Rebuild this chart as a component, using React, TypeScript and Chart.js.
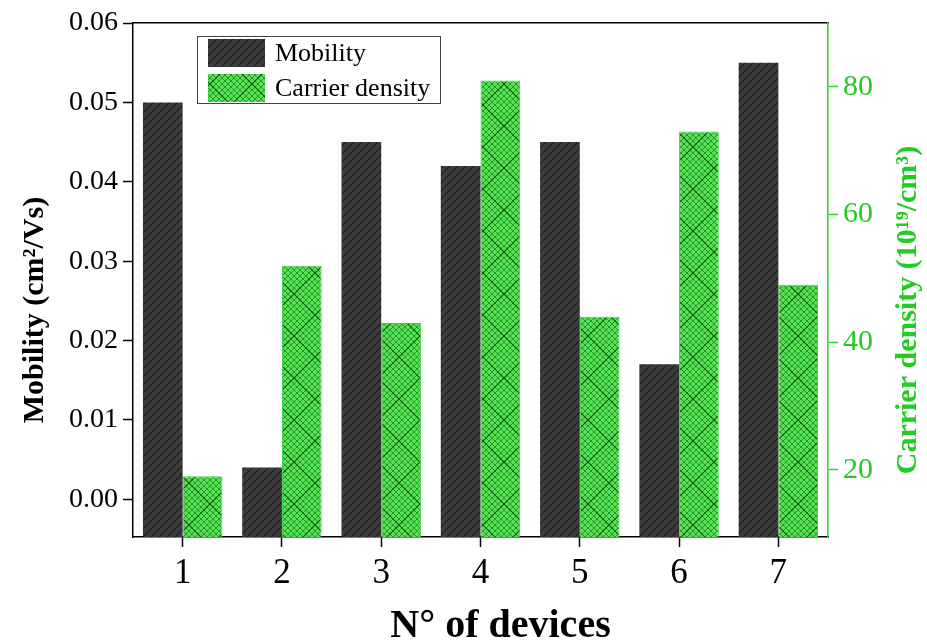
import React, { useEffect, useRef } from "react";
import { Chart, registerables } from "chart.js";

Chart.register(...registerables);

// ---- data ----
const devices = ["1", "2", "3", "4", "5", "6", "7"];
const mobility = [0.05, 0.004, 0.045, 0.042, 0.045, 0.017, 0.055];
const carrierDensity = [19, 52, 43, 81, 44, 73, 49];
const mobilityTicks = [0, 0.01, 0.02, 0.03, 0.04, 0.05, 0.06];
const densityTicks = [20, 40, 60, 80];
const seriesLabels = ["Mobility", "Carrier density"];
const mobilityTitle = "Mobility (cm\u00B2/Vs)";
const densityTitle = "Carrier density (10\u00B9\u2079/cm\u00B3)";
const xTitle = "N\u00B0 of devices";

const MOB_MIN = -0.00475;
const MOB_MAX = 0.06;
const DEN_MIN = 9.5;
const DEN_MAX = 90;

const SERIF = '"Liberation Serif", "Times New Roman", serif';
const GREEN = "#1ed81e";
const GREEN_TEXT = "#22cc22";

function darkPattern(): CanvasPattern | string {
  const s = 8;
  const c = document.createElement("canvas");
  c.width = s;
  c.height = s;
  const x = c.getContext("2d");
  if (!x) return "#333";
  x.fillStyle = "#3b3b3b";
  x.fillRect(0, 0, s, s);
  x.strokeStyle = "#1c1c1c";
  x.lineWidth = 1.2;
  x.beginPath();
  for (let k = -1; k <= 1; k++) {
    x.moveTo(k * s, s);
    x.lineTo(k * s + s, 0);
  }
  x.stroke();
  return x.createPattern(c, "repeat") || "#333";
}

function greenPattern(): CanvasPattern | string {
  const T = 42;
  const p = 6;
  const c = document.createElement("canvas");
  c.width = T;
  c.height = T;
  const x = c.getContext("2d");
  if (!x) return "#4e4";
  x.fillStyle = "#55e255";
  x.fillRect(0, 0, T, T);
  const drawLines = (step: number) => {
    x.beginPath();
    for (let k = 0; k <= 2 * T; k += step) {
      x.moveTo(k, 0);
      x.lineTo(k - T, T);
    }
    for (let d = -T; d <= T; d += step) {
      x.moveTo(0, d);
      x.lineTo(T, d + T);
    }
    x.stroke();
  };
  x.strokeStyle = "rgba(20,120,20,0.7)";
  x.lineWidth = 1;
  drawLines(p);
  x.strokeStyle = "#115511";
  x.lineWidth = 1.2;
  drawLines(T);
  return x.createPattern(c, "repeat") || "#4e4";
}

const overlayPlugin = {
  id: "overlay",
  afterDraw(chart: any) {
    const ctx: CanvasRenderingContext2D = chart.ctx;
    const area = chart.chartArea;
    const midY = (area.top + area.bottom) / 2 + 30;

    // left title
    ctx.save();
    ctx.fillStyle = "#000";
    ctx.font = `bold 30px ${SERIF}`;
    ctx.textAlign = "center";
    ctx.textBaseline = "middle";
    ctx.translate(area.left - 98, midY);
    ctx.rotate(-Math.PI / 2);
    ctx.fillText(mobilityTitle, 0, 0);
    ctx.restore();

    // right title (reads bottom to top)
    ctx.save();
    ctx.fillStyle = GREEN_TEXT;
    ctx.font = `bold 30px ${SERIF}`;
    ctx.textAlign = "center";
    ctx.textBaseline = "middle";
    ctx.translate(area.right + 80, midY);
    ctx.rotate(-Math.PI / 2);
    ctx.fillText(densityTitle, 0, 0);
    ctx.restore();

    // x title
    ctx.save();
    ctx.fillStyle = "#000";
    ctx.font = `bold 40px ${SERIF}`;
    ctx.textAlign = "center";
    ctx.textBaseline = "alphabetic";
    ctx.fillText(xTitle, (area.left + area.right) / 2 + 20, area.bottom + 100);
    ctx.restore();

    // legend
    const lx = area.left + 64;
    const ly = area.top + 13;
    const lw = 243;
    const lh = 67;
    ctx.save();
    ctx.fillStyle = "#fff";
    ctx.fillRect(lx, ly, lw, lh);
    ctx.strokeStyle = "#444";
    ctx.lineWidth = 1;
    ctx.strokeRect(lx + 0.5, ly + 0.5, lw, lh);
    chart.data.datasets.forEach((ds: any, i: number) => {
      const sy = ly + 3 + i * 35;
      ctx.fillStyle = ds.backgroundColor;
      ctx.fillRect(lx + 11, sy, 57, 28);
      ctx.fillStyle = "#000";
      ctx.font = `26px ${SERIF}`;
      ctx.textAlign = "left";
      ctx.textBaseline = "middle";
      ctx.fillText(ds.label, lx + 78, sy + 15);
    });
    ctx.restore();
  },
};

export default function App() {
  const ref = useRef<HTMLCanvasElement | null>(null);

  useEffect(() => {
    if (!ref.current) return;
    const chart = new Chart(ref.current, {
      type: "bar",
      data: {
        labels: devices,
        datasets: [
          {
            label: seriesLabels[0],
            data: mobility,
            yAxisID: "y",
            backgroundColor: darkPattern() as any,
            borderWidth: 0,
            base: MOB_MIN,
            barPercentage: 1,
            categoryPercentage: 0.8,
          },
          {
            label: seriesLabels[1],
            data: carrierDensity,
            yAxisID: "y1",
            backgroundColor: greenPattern() as any,
            borderColor: "#3fcf3f",
            borderWidth: 1,
            base: DEN_MIN,
            barPercentage: 1,
            categoryPercentage: 0.8,
          },
        ],
      },
      options: {
        responsive: false,
        animation: false,
        devicePixelRatio: 1,
        layout: { padding: 0 },
        plugins: {
          legend: { display: false },
          tooltip: { enabled: false },
        },
        scales: {
          x: {
            type: "category",
            position: "bottom",
            offset: true,
            grid: {
              display: true,
              drawOnChartArea: false,
              drawTicks: true,
              tickLength: 10,
              tickWidth: 1.5,
              tickColor: "#000",
              offset: false,
            },
            border: { display: true, color: "#000", width: 1.5 },
            ticks: {
              color: "#000",
              font: { family: SERIF, size: 35 },
              padding: 6,
              maxRotation: 0,
              autoSkip: false,
            },
            afterFit: (s: any) => {
              s.height = 105;
            },
          },
          xTop: {
            type: "category",
            position: "top",
            offset: true,
            grid: { display: false },
            ticks: { display: false },
            border: { display: true, color: "#000", width: 1.5 },
            afterFit: (s: any) => {
              s.height = 19;
            },
          },
          y: {
            type: "linear",
            position: "left",
            min: MOB_MIN,
            max: MOB_MAX,
            grid: {
              display: true,
              drawOnChartArea: false,
              tickLength: 10,
              tickWidth: 1.5,
              tickColor: "#000",
            },
            border: { display: true, color: "#000", width: 1.5 },
            ticks: {
              color: "#000",
              font: { family: SERIF, size: 28 },
              padding: 5,
              callback: (v: any) => Number(v).toFixed(2),
            },
            afterBuildTicks: (s: any) => {
              s.ticks = mobilityTicks.map((value) => ({ value }));
            },
            afterFit: (s: any) => {
              s.width = 133;
            },
          },
          y1: {
            type: "linear",
            position: "right",
            min: DEN_MIN,
            max: DEN_MAX,
            grid: {
              display: true,
              drawOnChartArea: false,
              tickLength: 10,
              tickWidth: 1.5,
              tickColor: GREEN,
            },
            border: { display: true, color: GREEN, width: 1.5 },
            ticks: {
              color: GREEN_TEXT,
              font: { family: SERIF, size: 30 },
              padding: 5,
              callback: (v: any) => String(v),
            },
            afterBuildTicks: (s: any) => {
              s.ticks = densityTicks.map((value) => ({ value }));
            },
            afterFit: (s: any) => {
              s.width = 99;
            },
          },
        },
      },
      plugins: [overlayPlugin],
    });
    return () => chart.destroy();
  }, []);

  return (
    <div style={{ position: "fixed", left: 0, top: 0, width: 927, height: 642, background: "#fff" }}>
      <canvas ref={ref} width={927} height={642} style={{ display: "block" }} />
    </div>
  );
}
